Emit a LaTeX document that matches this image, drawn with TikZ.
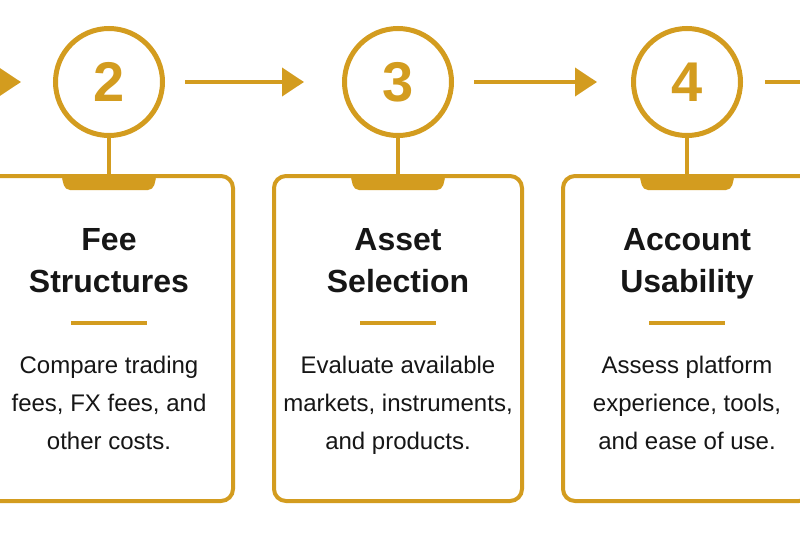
\documentclass[tikz,border=0pt]{standalone}
\usepackage{fontspec}
\setmainfont{Liberation Sans}
\usetikzlibrary{arrows.meta}
\definecolor{gold}{RGB}{211,156,31}
\definecolor{ink}{RGB}{22,22,22}
\begin{document}
\begin{tikzpicture}[x=1pt,y=-1pt,
  ring/.style={circle,draw=gold,line width=5pt,minimum size=107pt,inner sep=0pt,
    font=\fontsize{56}{56}\selectfont\bfseries,text=gold},
  card/.style={draw=gold,line width=4pt,rounded corners=12pt,minimum width=248pt,
    minimum height=325pt,inner sep=0pt,fill=white},
  flow/.style={draw=gold,line width=4pt,-{Triangle[length=22pt,width=28pt]}},
  stem/.style={draw=gold,line width=4pt},
  rulestyle/.style={draw=gold,line width=4pt},
  tabstyle/.style={fill=gold,rounded corners=5pt},
  title/.style={font=\fontsize{32}{42}\selectfont\bfseries,text=ink,align=center,anchor=base,inner sep=0pt},
  body/.style={font=\fontsize{24}{38}\selectfont,text=ink,align=center,anchor=base,inner sep=0pt}
]
\useasboundingbox[fill=white] (0,0) rectangle (800,533);
\clip (0,0) rectangle (800,533);

% cards
\node[card] (b2) at (109,338.5) {};
\node[card] (b3) at (398,338.5) {};
\node[card] (b4) at (687,338.5) {};

% circles
\node[ring] (c2) at (109,82) {2};
\node[ring] (c3) at (398,82) {3};
\node[ring] (c4) at (687,82) {4};

% stems
\draw[stem] (c2.south) -- (b2.north);
\draw[stem] (c3.south) -- (b3.north);
\draw[stem] (c4.south) -- (b4.north);

% tabs
\foreach \x in {109,398,687}{
  \fill[tabstyle] (\x-48,174) -- (\x-44,190) -- (\x+44,190) -- (\x+48,174) -- cycle;
  \draw[rulestyle] (\x-38,323) -- (\x+38,323);
}

% arrows
\coordinate (l0) at (-12,82);
\coordinate (r5) at (812,82);
\draw[flow] (l0) -- ([xshift=-32pt]c2.west);
\draw[flow] ([xshift=20pt]c2.east) -- ([xshift=-38pt]c3.west);
\draw[flow] ([xshift=20pt]c3.east) -- ([xshift=-34pt]c4.west);
\draw[stem] ([xshift=22pt]c4.east) -- (r5);

% texts (anchored at the baseline of the last line)
\node[title] (t2) at (109,292) {Fee\\Structures};
\node[title] (t3) at (398,292) {Asset\\Selection};
\node[title] (t4) at (687,292) {Account\\Usability};

\node[body] (d2) at (109,449) {Compare trading\\fees, FX fees, and\\other costs.};
\node[body] (d3) at (398,449) {Evaluate available\\markets, instruments,\\and products.};
\node[body] (d4) at (687,449) {Assess platform\\experience, tools,\\and ease of use.};
\end{tikzpicture}
\end{document}
